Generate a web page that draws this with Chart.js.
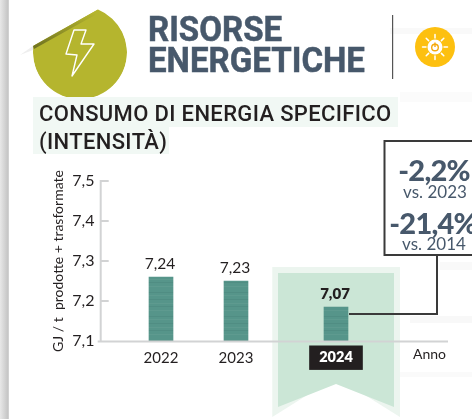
<!DOCTYPE html>
<html lang="it"><head><meta charset="utf-8">
<style>
html,body{margin:0;padding:0;width:472px;height:419px;overflow:hidden;background:#fff}
#stage{position:relative;width:472px;height:419px;overflow:hidden;font-family:Lato,sans-serif}
#bg,#cv,.t{position:absolute}
#bg{left:0;top:0}
#cv{left:0;top:0}
.t{white-space:nowrap;line-height:1}
.h{font:700 35px/30.5px Roboto,sans-serif;color:#47586b;left:148px;top:15px;white-space:pre;-webkit-text-stroke:.5px #47586b;transform:scaleX(.945);transform-origin:left top}
.sub{font:500 22px Roboto,sans-serif;letter-spacing:.35px;color:#231f20;left:39px}
.big{font:900 29px Lato,sans-serif;color:#47586b;text-align:center;letter-spacing:-.8px}
.vs{font:400 17px Lato,sans-serif;color:#47586b;text-align:center}
</style></head><body>
<div id="stage">
<svg id="bg" width="472" height="419" viewBox="0 0 472 419">
<defs>
<linearGradient id="edge" x1="0" x2="1" y1="0" y2="0"><stop offset="0" stop-color="#e8e8e8"/><stop offset=".85" stop-color="#c6c6c6"/><stop offset="1" stop-color="#d8d8d8"/></linearGradient>
<linearGradient id="fold" x1="0" y1="1" x2=".12" y2="0"><stop offset="0" stop-color="#6d7020"/><stop offset="1" stop-color="#b5b52e"/></linearGradient>
<clipPath id="disc"><path d="M33 46 L98 9.500 A47 47 0 1 1 33 52 Z"/></clipPath>
</defs>
<rect x="0" y="0" width="9" height="419" fill="url(#edge)"/>
<rect x="390" y="28" width="82" height="6" fill="#f9f9f9"/>
<rect x="400" y="92" width="72" height="10" fill="#fbfbfb"/>
<rect x="440" y="262" width="32" height="8" fill="#f9f9f9"/>
<rect x="410" y="316" width="62" height="7" fill="#f8f8f8"/>
<rect x="400" y="372" width="72" height="5" fill="#fafafa"/>
<path d="M20 55 L33 46 L60 30 L33 50 Z" fill="#eeeeee"/>
<circle cx="80" cy="52" r="47" fill="#b5b52e" clip-path="url(#disc)"/>
<path d="M33 46 L98 9.500 L95 15 L34 49 Z" fill="url(#fold)"/>
<path d="M74 30 L86 30 L81 44 L94 44 L72 76 L77 55 L66 54 Z" fill="none" stroke="#fff" stroke-width="1.400" stroke-linejoin="round"/>
<rect x="392" y="15" width="1.200" height="64" fill="#555"/>
<circle cx="435" cy="47" r="20" fill="#fdc010"/>
<g stroke="#fff" stroke-width="1.500" stroke-linecap="round">
<path d="M435 34.500V38M435 56V59.500M422.500 47H426M444 47H447.500M426.200 38.200L428.600 40.600M441.400 53.400L443.800 55.800M443.800 38.200L441.400 40.600M428.600 53.400L426.200 55.800"/>
</g>
<circle cx="435" cy="47" r="7.500" fill="#fff"/>
<circle cx="435" cy="47.500" r="3.300" fill="none" stroke="#f5a90c" stroke-width="1.400"/>
<path d="M435 42.500V47" stroke="#f5a90c" stroke-width="1.400"/>
<rect x="33" y="97" width="365" height="30" fill="#f1f8f4"/>
<rect x="33" y="127" width="136" height="27" fill="#f1f8f4"/>
<path d="M272.300 267H400V417L336 377L272.300 417Z" fill="#ecf5ef"/>
<path d="M278 273H394V407L336 384L278 407Z" fill="#cbe6d6"/>
<rect x="384.500" y="141" width="90" height="114" fill="#fff" stroke="#3a3a3a" stroke-width="2"/>
<path d="M349 314H437V255" fill="none" stroke="#3a3a3a" stroke-width="2"/>
</svg>
<canvas id="cv" width="472" height="419"></canvas>
<div class="t h">RISORSE
ENERGETICHE</div>
<div class="t sub" style="top:101px">CONSUMO DI ENERGIA SPECIFICO</div>
<div class="t sub" style="top:129px">(INTENSITÀ)</div>
<div class="t big" style="left:384px;width:100px;top:152px">-2,2%</div>
<div class="t vs" style="left:385px;width:100px;top:181px">vs. 2023</div>
<div class="t big" style="left:383px;width:100px;top:205px">-21,4%</div>
<div class="t vs" style="left:384px;width:100px;top:233px">vs. 2014</div>
<div class="t" style="left:413px;top:347px;font-size:14px;color:#231f20">Anno</div>
</div>
<script src="https://cdn.jsdelivr.net/npm/chart.js@4"></script>
<script>
const categories = ["", "", "2022", "", "", "2023", "", "", "", "2024", "", "", "", ""];
const barHeights = [null, null, 7.26, null, null, 7.25, null, null, null, 7.185, null, null, null, null];
const valueLabels = [null, null, "7,24", null, null, "7,23", null, null, null, "7,07", null, null, null, null];
const yTicks = [7.1, 7.2, 7.3, 7.4, 7.5];
const yTitle = "GJ / t  prodotte + trasformate";
const highlighted = "2024";

function barPattern() {
  const c = document.createElement("canvas"); c.width = 4; c.height = 24;
  const g = c.getContext("2d");
  g.fillStyle = "#56958a"; g.fillRect(0, 0, 4, 24);
  g.fillStyle = "rgba(40,90,80,.12)";
  [4, 11, 18].forEach(y => g.fillRect(0, y, 4, 1));
  g.fillStyle = "rgba(255,255,255,.05)";
  [7, 15, 22].forEach(y => g.fillRect(0, y, 4, 1));
  return g.createPattern(c, "repeat");
}

const axesAndLabels = {
  id: "axesAndLabels",
  afterDatasetsDraw(chart) {
    const { ctx, chartArea: a, scales: { y } } = chart;
    ctx.save();
    ctx.strokeStyle = "#d2d3d4"; ctx.lineWidth = 2;
    const ax = a.left + 2.2;
    ctx.beginPath();
    ctx.moveTo(ax, y.getPixelForValue(7.5) - 1);
    ctx.lineTo(ax, a.bottom);
    ctx.moveTo(ax - 3, a.bottom + .5);
    ctx.lineTo(a.right - .5, a.bottom + .5);
    yTicks.slice(1).forEach(v => {
      const p = y.getPixelForValue(v);
      ctx.moveTo(ax, p); ctx.lineTo(ax + 8, p);
    });
    ctx.stroke();
    const meta = chart.getDatasetMeta(0);
    ctx.textAlign = "center"; ctx.textBaseline = "middle";
    meta.data.forEach((el, i) => {
      if (!valueLabels[i]) return;
      const hi = categories[i] === highlighted;
      ctx.font = (hi ? "800 15px" : "400 15.5px") + " Lato, sans-serif";
      ctx.fillStyle = "#231f20";
      ctx.fillText(valueLabels[i], el.x - 1, el.y - 13);
    });
    ctx.restore();
  }
};

new Chart(document.getElementById("cv"), {
  type: "bar",
  data: { labels: categories, datasets: [{ data: barHeights, backgroundColor: barPattern(), barThickness: 24, borderWidth: 0 }] },
  plugins: [axesAndLabels],
  options: {
    responsive: false, animation: false, events: [],
    layout: { padding: { top: 181, right: 23.5, left: 0, bottom: 0 } },
    plugins: { legend: { display: false }, tooltip: { enabled: false }, title: { display: false } },
    scales: {
      x: {
        grid: { display: false, drawTicks: false }, border: { display: false },
        afterFit(s) { s.height = 78; },
        ticks: {
          autoSkip: false, maxRotation: 0, minRotation: 0, padding: 8,
          font: c => categories[c.index] === highlighted
            ? { family: "Lato, sans-serif", size: 14.5, weight: "800" }
            : { family: "Lato, sans-serif", size: 15, weight: "400" },
          color: c => categories[c.index] === highlighted ? "#ffffff" : "#231f20",
          showLabelBackdrop: c => categories[c.index] === highlighted,
          backdropColor: "#231f20",
          backdropPadding: { x: 10, y: 3.5 }
        }
      },
      y: {
        min: 7.1, max: 7.5,
        grid: { display: false, drawTicks: false }, border: { display: false },
        afterFit(s) { s.width = 98.5; },
        afterBuildTicks(s) { s.ticks = yTicks.map(value => ({ value })); },
        title: { display: true, text: yTitle, color: "#231f20", font: { family: "Lato, sans-serif", size: 14 }, padding: { top: 50, bottom: 0 } },
        ticks: {
          padding: 4, color: "#231f20",
          font: { family: "Lato, sans-serif", size: 16 },
          callback: v => String(v.toFixed(1)).replace(".", ",")
        }
      }
    }
  }
});
</script>
</body></html>
